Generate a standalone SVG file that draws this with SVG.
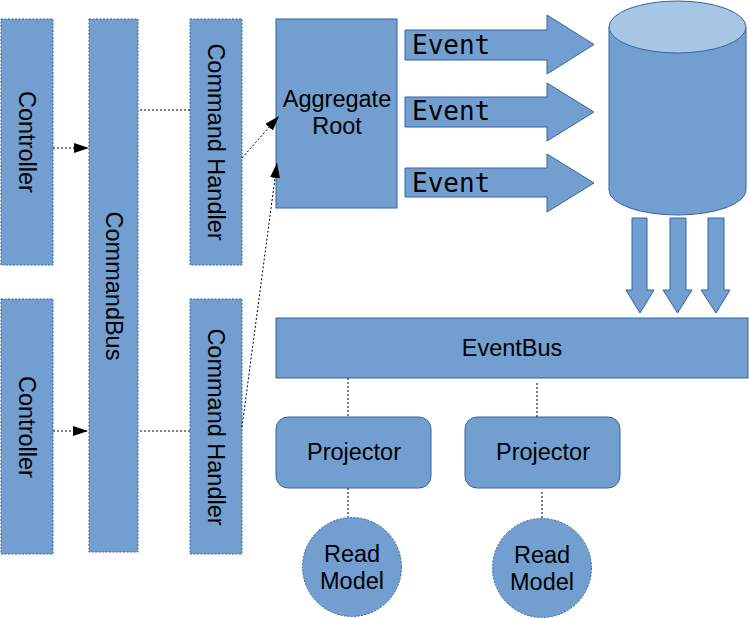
<svg xmlns="http://www.w3.org/2000/svg" width="749" height="618" viewBox="0 0 749 618">
<style>
.box{fill:#729fcf;stroke:#3465a4;stroke-width:1}
.dotbox{fill:#729fcf;stroke:#3465a4;stroke-width:1;stroke-dasharray:2 1.5}
.lbl{font-family:"Liberation Sans",Arial,sans-serif;font-size:23.5px;fill:#000;text-anchor:middle}
.mono{font-family:"DejaVu Sans Mono",monospace;font-size:26px;fill:#000}
.conn{fill:none;stroke:#000;stroke-width:1;stroke-dasharray:2 2}
</style>
<defs>
<marker id="ah" viewBox="0 0 15 10" refX="15" refY="5" markerWidth="15" markerHeight="10" markerUnits="userSpaceOnUse" orient="auto">
<path d="M0,0 L15,5 L0,10 Z" fill="#000"/>
</marker>
</defs>
<rect width="749" height="618" fill="#fff"/>

<g id="controller1"><rect class="dotbox" x="1" y="19" width="52" height="246"/><text class="lbl" x="27" y="142" dominant-baseline="central" transform="rotate(90 27 142)">Controller</text></g>
<g id="controller2"><rect class="dotbox" x="1" y="299" width="52" height="255"/><text class="lbl" x="27" y="427" dominant-baseline="central" transform="rotate(90 27 427)">Controller</text></g>
<g id="commandbus"><rect class="dotbox" x="89" y="19" width="49" height="533"/><text class="lbl" x="113.5" y="286" dominant-baseline="central" transform="rotate(90 113.5 286)">CommandBus</text></g>
<g id="handler1"><rect class="dotbox" x="190" y="19" width="52" height="246"/><text class="lbl" x="216" y="142" dominant-baseline="central" transform="rotate(90 216 142)">Command Handler</text></g>
<g id="handler2"><rect class="dotbox" x="190" y="299" width="52" height="255"/><text class="lbl" x="216" y="427" dominant-baseline="central" transform="rotate(90 216 427)">Command Handler</text></g>

<g id="aggregate"><rect class="box" x="276" y="19" width="121" height="189"/><text class="lbl" x="337" y="107">Aggregate</text><text class="lbl" x="337" y="134">Root</text></g>

<g id="event1"><polygon class="box" points="405,30 547,30 547,15 594,44.5 547,74 547,60 405,60"/><text class="mono" x="412" y="54">Event</text></g>
<g id="event2"><polygon class="box" points="405,97 547,97 547,83 594,112 547,141 547,127 405,127"/><text class="mono" x="412" y="120">Event</text></g>
<g id="event3"><polygon class="box" points="405,168 547,168 547,154 594,183 547,212 547,197 405,197"/><text class="mono" x="412" y="192">Event</text></g>

<g id="eventstore">
<path class="box" d="M609,27 L609,190 A68.5,25 0 0 0 746,190 L746,27 Z"/>
<ellipse cx="677.5" cy="27" rx="68.5" ry="26" fill="#a7c5e5" stroke="#3465a4" stroke-width="1"/>
</g>

<g id="down1"><polygon class="box" points="632,218 647,218 647,290 654,290 640,313 626,290 632,290"/></g>
<g id="down2"><polygon class="box" points="670,218 686,218 686,290 692,290 677.5,313 663,290 670,290"/></g>
<g id="down3"><polygon class="box" points="708,218 724,218 724,290 730,290 716,313 701,290 708,290"/></g>

<g id="eventbus"><rect class="box" x="276" y="318" width="472" height="60"/><text class="lbl" x="512" y="356">EventBus</text></g>

<g id="projector1"><rect class="box" x="276" y="417" width="155" height="71" rx="12"/><text class="lbl" x="354" y="460">Projector</text></g>
<g id="projector2"><rect class="box" x="465" y="417" width="155" height="71" rx="12"/><text class="lbl" x="543" y="460">Projector</text></g>

<g id="readmodel1"><circle class="dotbox" cx="352" cy="567" r="49.5"/><text class="lbl" x="352" y="562">Read</text><text class="lbl" x="352" y="589">Model</text></g>
<g id="readmodel2"><circle class="dotbox" cx="542" cy="568" r="49.5"/><text class="lbl" x="542" y="563">Read</text><text class="lbl" x="542" y="590">Model</text></g>

<g id="connectors">
<line class="conn" x1="53" y1="148" x2="89" y2="148" marker-end="url(#ah)"/>
<line class="conn" x1="53" y1="431" x2="88" y2="431" marker-end="url(#ah)"/>
<line class="conn" x1="140" y1="110" x2="190" y2="110"/>
<line class="conn" x1="140" y1="431" x2="190" y2="431"/>
<line class="conn" x1="242" y1="158" x2="279" y2="116" marker-end="url(#ah)"/>
<line class="conn" x1="242" y1="427" x2="277" y2="163" marker-end="url(#ah)"/>
<line class="conn" x1="348" y1="378" x2="348" y2="417"/>
<line class="conn" x1="537" y1="383" x2="537" y2="417"/>
<line class="conn" x1="348" y1="488" x2="348" y2="517"/>
<line class="conn" x1="542" y1="492" x2="542" y2="518"/>
</g>
</svg>
